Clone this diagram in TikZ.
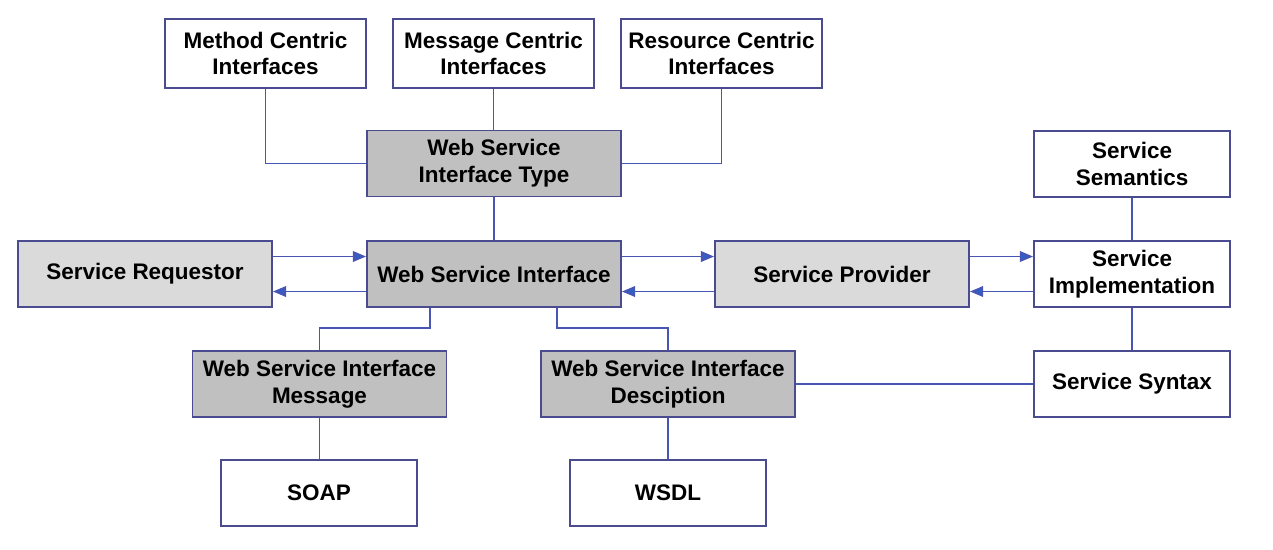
\documentclass[tikz,border=0pt]{standalone}
\usepackage{fontspec}
\setmainfont{Liberation Sans}
\usetikzlibrary{arrows.meta,positioning,calc}
\usepackage{xcolor}
\definecolor{Edge}{HTML}{4B4B8F}
\definecolor{Wire}{HTML}{4755B5}
\definecolor{Tip}{HTML}{2F5FC8}
\definecolor{DarkFill}{HTML}{C0C0C0}
\definecolor{LightFill}{HTML}{DADADA}
\begin{document}
\begin{tikzpicture}[x=0.02cm,y=-0.02cm,
  box/.style={draw=Edge,line width=1.1pt,align=center,inner sep=0pt,
    font=\fontsize{12.8}{15.3}\selectfont\bfseries},
  topbox/.style={box,fill=white,minimum width=4.02cm,minimum height=1.38cm},
  widebox/.style={box,minimum width=5.08cm,minimum height=1.32cm},
  sidebox/.style={box,fill=white,minimum width=3.92cm,minimum height=1.32cm},
  link/.style={Wire,line width=1.1pt},
  flow/.style={link,-{Triangle[length=7.5pt,width=6pt,fill=Tip]}}]
\useasboundingbox (0,0) rectangle (1273,549);
\node[topbox] (method) at (265.5,53.5) {Method Centric\\Interfaces};
\node[topbox] (message) at (493.5,53.5) {Message Centric\\Interfaces};
\node[topbox] (resource) at (721.5,53.5) {Resource Centric\\Interfaces};
\node[widebox,fill=DarkFill] (type) at (494,163.5) {Web Service\\Interface Type};
\node[sidebox] (semantics) at (1132,164) {Service\\Semantics};
\node[widebox,fill=LightFill] (requestor) at (145,274) {Service Requestor};
\node[widebox,fill=DarkFill] (wsi) at (494,274) {Web Service Interface};
\node[widebox,fill=LightFill] (provider) at (842,274) {Service Provider};
\node[sidebox] (impl) at (1132,274) {Service\\Implementation};
\node[widebox,fill=DarkFill] (msg) at (319.5,384) {Web Service Interface\\Message};
\node[widebox,fill=DarkFill] (desc) at (668,384) {Web Service Interface\\Desciption};
\node[sidebox] (syntax) at (1132,384) {Service Syntax};
\node[sidebox] (soap) at (319,493) {SOAP};
\node[sidebox] (wsdl) at (668,493) {WSDL};
\draw[link] (method.south) |- (type.west);
\draw[link] (message.south) -- (message.south |- type.north);
\draw[link] (resource.south) |- (type.east);
\draw[link] (type.south) -- (wsi.north);
\draw[flow] ($(requestor.east)+(0,-17.5)$) -- ($(wsi.west)+(0,-17.5)$);
\draw[flow] ($(wsi.west)+(0,17.5)$) -- ($(requestor.east)+(0,17.5)$);
\draw[flow] ($(wsi.east)+(0,-17.5)$) -- ($(provider.west)+(0,-17.5)$);
\draw[flow] ($(provider.west)+(0,17.5)$) -- ($(wsi.east)+(0,17.5)$);
\draw[flow] ($(provider.east)+(0,-17.5)$) -- ($(impl.west)+(0,-17.5)$);
\draw[flow] ($(impl.west)+(0,17.5)$) -- ($(provider.east)+(0,17.5)$);
\draw[link] ($(wsi.south)+(-64,0)$) -- ++(0,20) -| (msg.north);
\draw[link] ($(wsi.south)+(63,0)$) -- ++(0,20) -| (desc.north);
\draw[link] (msg.south) -- (soap.north -| msg.south);
\draw[link] (desc.south) -- (wsdl.north -| desc.south);
\draw[link] (desc.east) -- (syntax.west);
\draw[link] (semantics.south) -- (impl.north);
\draw[link] (impl.south) -- (syntax.north);
\end{tikzpicture}
\end{document}
